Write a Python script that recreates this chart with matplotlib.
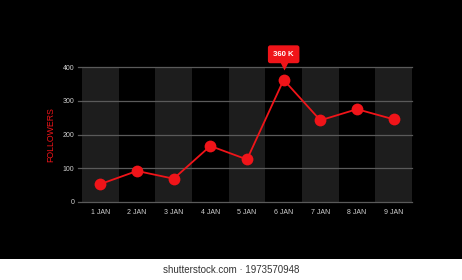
import matplotlib
matplotlib.use("Agg")
import matplotlib.pyplot as plt
import matplotlib.transforms as mtrans
from matplotlib.patches import Rectangle

days = ["1 JAN", "2 JAN", "3 JAN", "4 JAN", "5 JAN", "6 JAN", "7 JAN", "8 JAN", "9 JAN"]
followers = [53, 92, 69, 166, 126, 362, 242, 275, 245]
yticks = [0, 100, 200, 300, 400]
peak_label = "360 K"

plt.rcParams["font.family"] = ["Liberation Sans", "DejaVu Sans"]
RED = "#f01419"
fig = plt.figure(figsize=(4.62, 2.8), dpi=100, facecolor="black")
ax = fig.add_axes([82/462, 1-202/280, 330/462, 135/280])
ax.set_facecolor("black")
x = list(range(len(days)))

for i in x:
    if i % 2 == 0:
        ax.axvspan(i-0.5, i+0.5, color="#1d1d1d", zorder=0, lw=0)

for t in yticks:
    ax.axhline(t, xmin=-0.012, xmax=1, color="#5a5a5a", lw=0.9, zorder=1, clip_on=False)

ax.plot(x, followers, color=RED, lw=1.3, zorder=3)
ax.plot(x, followers, "o", color=RED, markersize=8.5, mec="none", zorder=4)

ax.set_xlim(-0.5, len(days)-0.5)
ax.set_ylim(0, 400)
ax.set_xticks(x)
ax.set_xticklabels(days)
ax.set_yticks(yticks)
ax.tick_params(axis="both", length=0, colors="#d0d0d0", labelsize=5)
ax.tick_params(axis="x", pad=5)
ax.tick_params(axis="y", pad=5.5)
for s in ax.spines.values():
    s.set_visible(False)

ax.set_ylabel("FOLLOWERS", color=RED, fontsize=6.3)
ax.yaxis.set_label_coords(-0.082, 0.5)

imax = followers.index(max(followers))
ax.annotate(peak_label, (x[imax], followers[imax]), xytext=(0, 18.4), textcoords="offset points",
            ha="center", va="center", color="white", fontsize=5.6, fontweight="bold",
            bbox=dict(boxstyle="round,pad=0.7,rounding_size=0.3", fc=RED, ec="none"), zorder=6)
tri, = ax.plot([x[imax]], [followers[imax]], marker="v", color=RED, markersize=5.5, mec="none",
               zorder=6, clip_on=False)
tri.set_transform(ax.transData + mtrans.ScaledTranslation(0, 10/72, fig.dpi_scale_trans))

fig.patches.append(Rectangle((0, 0), 1, 21/280, transform=fig.transFigure, fc="white", ec="none"))
fig.text(0.5, 10/280, "shutterstock.com \u00b7 1973570948", ha="center", va="center",
         fontsize=7, color="#333333", family="Liberation Sans")

fig.savefig("out.png", dpi=100, facecolor="black")
